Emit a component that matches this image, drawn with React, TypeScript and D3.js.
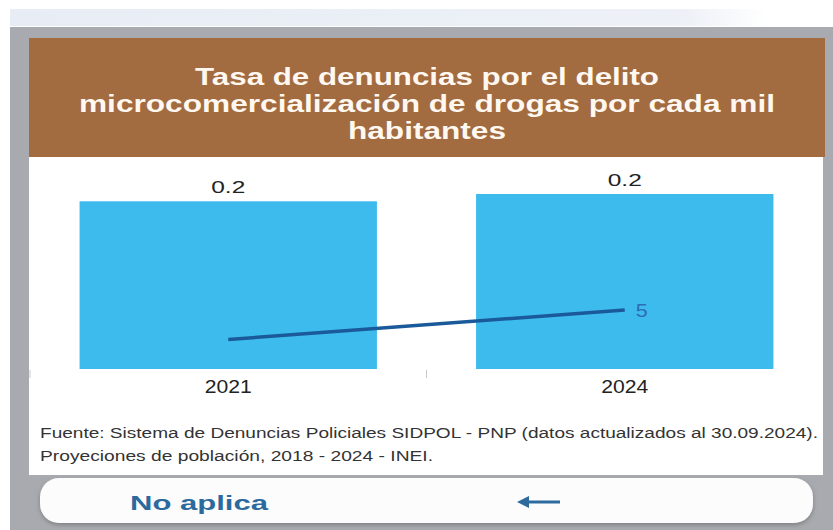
import React from "react";
import * as d3 from "d3";

const categories = ["2021", "2024"];
const barValues = [0.23, 0.24];
const lineValues = [2.5, 5];
const lineLabels = ["", "5"];
const titleLines = [
  "Tasa de denuncias por el delito",
  "microcomercialización de drogas por cada mil",
  "habitantes",
];
const sourceLines = [
  "Fuente: Sistema de Denuncias Policiales SIDPOL - PNP (datos actualizados al 30.09.2024).",
  "Proyeciones de población, 2018 - 2024 - INEI.",
];
const buttonLabel = "No aplica";

const W = 833;
const H = 530;
const FONT = "'Liberation Sans', Arial, Helvetica, sans-serif";

export default function App() {
  const x = d3
    .scaleBand<string>()
    .domain(categories)
    .range([30, 823])
    .paddingInner(0.25)
    .paddingOuter(0.125);
  const yBar = d3.scaleLinear().domain([0, 0.24]).range([369, 194]);
  const yLine = d3.scaleLinear().domain([0, 5]).range([369, 310]);
  const fmt = d3.format(".1f");
  const cx = (c: string) => (x(c) as number) + x.bandwidth() / 2;

  const linePath = d3
    .line<number>()
    .x((_, i) => cx(categories[i]))
    .y((d) => yLine(d))(lineValues) as string;

  const gap = x.step() - x.bandwidth();
  const boundaries = categories.map((c) => (x(c) as number) - gap / 2);

  const titleWidths = [464, 696, 158];
  const titleY = [85, 112, 139];

  return (
    <svg
      width={W}
      height={H}
      style={{ position: "absolute", left: 0, top: 0, display: "block" }}
      fontFamily={FONT}
    >
      <defs>
        <linearGradient id="topband" x1="0" x2="1" y1="0" y2="0">
          <stop offset="0" stopColor="#e8edf5" />
          <stop offset="0.82" stopColor="#edf1f7" />
          <stop offset="0.92" stopColor="#ffffff" />
        </linearGradient>
        <filter id="btnShadow" x="-5%" y="-30%" width="110%" height="170%">
          <feDropShadow dx="0" dy="2" stdDeviation="2" floodColor="#555" floodOpacity="0.5" />
        </filter>
      </defs>
      <rect x={0} y={0} width={W} height={H} fill="#ffffff" />
      <rect x={10} y={9} width={W - 10} height={17} fill="url(#topband)" />
      {/* grey frame */}
      <rect x={10} y={27} width={W - 10} height={H - 27} fill="#a8aaaf" />
      {/* brown header */}
      <rect x={29} y={38} width={796} height={119} fill="#a26b40" />
      {/* white panel */}
      <rect x={29} y={157} width={794} height={318} fill="#ffffff" />

      {titleLines.map((t, i) => (
        <text
          key={i}
          x={427}
          y={titleY[i]}
          textAnchor="middle"
          fontSize={23}
          fontWeight="bold"
          fill="#fff8f0"
          textLength={titleWidths[i]}
          lengthAdjust="spacingAndGlyphs"
        >
          {t}
        </text>
      ))}

      {/* bars */}
      {categories.map((c, i) => (
        <rect
          key={c}
          x={x(c)}
          y={yBar(barValues[i])}
          width={x.bandwidth()}
          height={yBar(0) - yBar(barValues[i])}
          fill="#3dbbed"
        />
      ))}
      {categories.map((c, i) => (
        <text
          key={"v" + c}
          x={cx(c)}
          y={yBar(barValues[i]) - 8}
          textAnchor="middle"
          fontSize={17}
          fill="#222"
          textLength={34}
          lengthAdjust="spacingAndGlyphs"
        >
          {fmt(barValues[i])}
        </text>
      ))}

      {/* boundary ticks */}
      {boundaries.map((b, i) => (
        <line key={"t" + i} x1={b} x2={b} y1={370} y2={378} stroke="#c8c8c8" strokeWidth={1} />
      ))}

      {/* category labels */}
      {categories.map((c) => (
        <text
          key={"c" + c}
          x={cx(c)}
          y={393}
          textAnchor="middle"
          fontSize={17.5}
          fill="#222"
          textLength={47}
          lengthAdjust="spacingAndGlyphs"
        >
          {c}
        </text>
      ))}

      {/* line series */}
      <path d={linePath} fill="none" stroke="#1b5a9a" strokeWidth={3.5} />
      {categories.map((c, i) =>
        lineLabels[i] ? (
          <text
            key={"l" + c}
            x={cx(c) + 11}
            y={yLine(lineValues[i]) + 7}
            fontSize={18}
            fill="#2e6db3"
            textLength={12}
            lengthAdjust="spacingAndGlyphs"
          >
            {lineLabels[i]}
          </text>
        ) : null
      )}

      {/* source */}
      <text x={40} y={438} fontSize={14} fill="#333" textLength={778} lengthAdjust="spacingAndGlyphs">
        {sourceLines[0]}
      </text>
      <text x={40} y={461} fontSize={14} fill="#333" textLength={393} lengthAdjust="spacingAndGlyphs">
        {sourceLines[1]}
      </text>

      {/* button */}
      <rect x={40} y={478} width={773} height={45} rx={19} fill="#fcfcfc" filter="url(#btnShadow)" />
      <text
        x={130}
        y={510}
        fontSize={21}
        fontWeight="bold"
        fill="#2c6a9e"
        textLength={138}
        lengthAdjust="spacingAndGlyphs"
      >
        {buttonLabel}
      </text>
      <line x1={526} x2={560} y1={502} y2={502} stroke="#2d6b9e" strokeWidth={3} />
      <path d="M517,502 L529,496 L529,508 Z" fill="#2d6b9e" />
    </svg>
  );
}
